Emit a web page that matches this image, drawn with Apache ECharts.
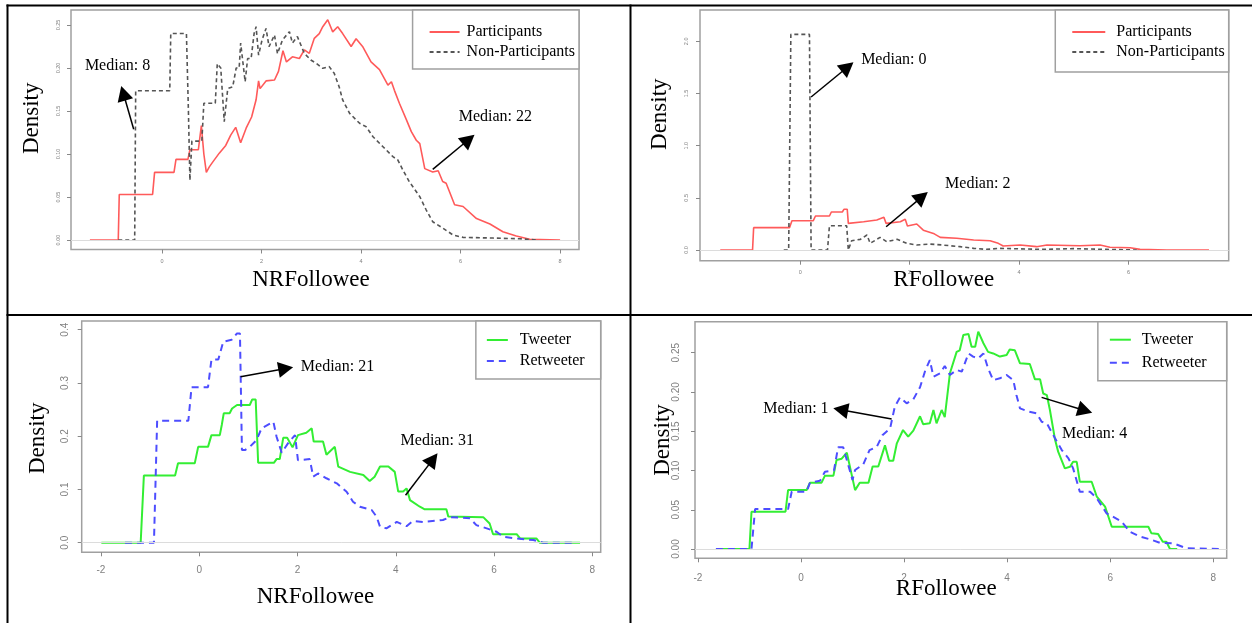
<!DOCTYPE html>
<html><head><meta charset="utf-8">
<script src="https://cdn.jsdelivr.net/npm/echarts@6/dist/echarts.min.js"></script>
<style>html,body{margin:0;padding:0;background:#fff}#c{width:1252px;height:623px}</style>
</head><body><div id="c"></div>
<script>
// ---------------- DATA ----------------
// Panel 1: NRFollowee, Participants vs Non-Participants
const p1Participants = [[-1.45,0],[-0.88,0],[-0.86,0.053],[-0.19,0.053],[-0.15,0.0787],[0.24,0.0787],[0.28,0.0938],[0.52,0.0938],[0.56,0.105],[0.73,0.105],[0.79,0.133],[0.84,0.10],[0.89,0.0787],[0.95,0.085],[1.01,0.090],[1.15,0.101],[1.28,0.110],[1.38,0.122],[1.48,0.131],[1.58,0.113],[1.69,0.130],[1.80,0.143],[1.89,0.163],[1.94,0.185],[1.97,0.176],[2.09,0.185],[2.26,0.186],[2.34,0.196],[2.43,0.220],[2.50,0.207],[2.62,0.213],[2.76,0.211],[2.86,0.221],[2.96,0.217],[3.06,0.2345],[3.16,0.240],[3.23,0.248],[3.33,0.256],[3.43,0.242],[3.53,0.248],[3.63,0.240],[3.80,0.225],[3.90,0.234],[4.03,0.225],[4.20,0.207],[4.37,0.198],[4.54,0.180],[4.61,0.184],[4.67,0.174],[4.77,0.159],[4.91,0.140],[5.01,0.126],[5.11,0.116],[5.18,0.112],[5.28,0.083],[5.44,0.079],[5.55,0.0806],[5.64,0.068],[5.71,0.066],[5.88,0.041],[6.05,0.039],[6.32,0.025],[6.59,0.0186],[6.85,0.0097],[7.12,0.0047],[7.39,0.0008],[8.0,0]];
const p1NonParticipants = [[-0.88,0],[-0.55,0],[-0.53,0.1736],[0.155,0.1736],[0.175,0.240],[0.49,0.240],[0.53,0.15],[0.56,0.0694],[0.60,0.115],[0.80,0.115],[0.84,0.159],[1.07,0.159],[1.11,0.205],[1.18,0.2],[1.25,0.1376],[1.32,0.176],[1.42,0.178],[1.49,0.2],[1.55,0.2],[1.58,0.229],[1.67,0.184],[1.72,0.211],[1.79,0.211],[1.85,0.240],[1.89,0.248],[1.94,0.215],[2.01,0.2326],[2.09,0.246],[2.15,0.2248],[2.26,0.2384],[2.32,0.2166],[2.42,0.2326],[2.56,0.2422],[2.62,0.229],[2.72,0.2365],[2.79,0.2267],[2.86,0.217],[2.99,0.2093],[3.10,0.2054],[3.23,0.1996],[3.36,0.2016],[3.46,0.1938],[3.56,0.178],[3.63,0.1628],[3.77,0.1473],[3.97,0.1357],[4.10,0.1318],[4.24,0.120],[4.44,0.1085],[4.64,0.0969],[4.74,0.093],[4.84,0.0814],[4.97,0.0678],[5.18,0.0504],[5.31,0.0349],[5.44,0.0213],[5.65,0.0136],[5.85,0.0058],[6.05,0.0031],[6.65,0.0023],[7.19,0.0015],[7.53,0]];
// Panel 2: RFollowee, Participants vs Non-Participants
const p2Participants = [[-1.46,0],[-0.87,0],[-0.85,0.214],[-0.195,0.214],[-0.15,0.281],[0.24,0.281],[0.28,0.326],[0.535,0.326],[0.57,0.364],[0.77,0.364],[0.80,0.39],[0.86,0.39],[0.88,0.255],[1.16,0.271],[1.40,0.287],[1.53,0.313],[1.57,0.255],[1.83,0.271],[1.92,0.294],[1.96,0.23],[2.13,0.249],[2.25,0.19],[2.45,0.155],[2.56,0.121],[2.86,0.112],[3.17,0.096],[3.47,0.089],[3.62,0.064],[3.71,0.038],[4.02,0.048],[4.32,0.032],[4.51,0.048],[5.11,0.041],[5.48,0.048],[5.66,0.026],[6.03,0.022],[6.21,0.006],[6.70,0],[7.47,0]];
const p2NonParticipants = [[-0.30,0],[-0.21,0],[-0.17,2.066],[0.17,2.066],[0.20,0],[0.50,0],[0.535,0.233],[0.85,0.233],[0.88,0],[0.94,0.089],[1.10,0.102],[1.22,0.144],[1.28,0.064],[1.46,0.121],[1.58,0.080],[1.77,0.102],[1.95,0.064],[2.13,0.048],[2.37,0.057],[2.60,0.048],[2.92,0.032],[3.17,0.016],[3.41,0.006],[3.65,0.016],[4.38,0.006],[4.99,0.013],[5.60,0.006],[6.15,0]];
// Panel 3: NRFollowee, Tweeter vs Retweeter
const p3Tweeter = [[-1.99,0],[-1.19,0],[-1.125,0.126],[-0.49,0.126],[-0.43,0.149],[-0.09,0.149],[-0.02,0.180],[0.18,0.180],[0.25,0.202],[0.42,0.202],[0.46,0.221],[0.50,0.243],[0.62,0.243],[0.67,0.252],[0.77,0.2586],[1.03,0.2586],[1.08,0.269],[1.15,0.269],[1.20,0.150],[1.52,0.150],[1.575,0.157],[1.64,0.157],[1.71,0.197],[1.79,0.197],[1.90,0.179],[2.01,0.202],[2.18,0.2066],[2.29,0.2148],[2.33,0.190],[2.52,0.190],[2.59,0.165],[2.69,0.174],[2.76,0.180],[2.83,0.143],[3.07,0.133],[3.34,0.127],[3.47,0.116],[3.57,0.124],[3.68,0.143],[3.85,0.143],[3.98,0.133],[4.05,0.096],[4.15,0.096],[4.22,0.102],[4.29,0.080],[4.49,0.0676],[4.59,0.0627],[5.03,0.0627],[5.07,0.049],[5.78,0.048],[5.91,0.036],[5.98,0.016],[6.46,0.016],[6.53,0.008],[6.86,0.008],[6.93,0],[7.75,0]];
const p3Retweeter = [[-1.51,0],[-0.92,0],[-0.855,0.229],[-0.22,0.229],[-0.155,0.292],[0.18,0.292],[0.25,0.344],[0.39,0.344],[0.49,0.3775],[0.66,0.381],[0.77,0.393],[0.83,0.393],[0.87,0.174],[0.93,0.174],[1.03,0.180],[1.17,0.193],[1.27,0.215],[1.51,0.227],[1.575,0.199],[1.68,0.169],[1.81,0.187],[1.95,0.202],[2.01,0.155],[2.25,0.157],[2.32,0.124],[2.42,0.130],[2.46,0.133],[2.59,0.121],[2.80,0.1115],[3.00,0.0958],[3.13,0.077],[3.27,0.0676],[3.51,0.0614],[3.61,0.0488],[3.68,0.030],[3.81,0.027],[4.02,0.039],[4.22,0.031],[4.35,0.041],[4.56,0.039],[4.96,0.0426],[5.10,0.048],[5.51,0.046],[5.64,0.033],[5.85,0.027],[6.05,0.0207],[6.19,0.011],[6.46,0.008],[6.80,0.005],[7.0,0],[7.61,0]];
// Panel 4: RFollowee, Tweeter vs Retweeter
const p4Tweeter = [[-1.65,0],[-1.0,0],[-0.96,0.0475],[-0.30,0.0475],[-0.25,0.0751],[0.11,0.0751],[0.175,0.0845],[0.40,0.0845],[0.465,0.0934],[0.63,0.0934],[0.69,0.1133],[0.79,0.115],[0.89,0.1226],[1.05,0.075],[1.14,0.0845],[1.31,0.0845],[1.39,0.105],[1.50,0.105],[1.63,0.132],[1.71,0.1124],[1.79,0.1124],[1.86,0.1346],[1.98,0.1515],[2.08,0.143],[2.18,0.1507],[2.31,0.169],[2.37,0.159],[2.50,0.160],[2.57,0.177],[2.63,0.160],[2.73,0.177],[2.79,0.168],[2.89,0.2237],[3.02,0.251],[3.08,0.253],[3.15,0.2725],[3.25,0.2737],[3.31,0.2576],[3.38,0.2576],[3.44,0.2767],[3.54,0.262],[3.63,0.251],[3.73,0.249],[3.86,0.245],[3.99,0.247],[4.05,0.254],[4.15,0.253],[4.25,0.2364],[4.44,0.2355],[4.54,0.216],[4.64,0.216],[4.70,0.198],[4.77,0.196],[4.83,0.177],[4.93,0.139],[4.99,0.124],[5.12,0.1027],[5.22,0.1048],[5.28,0.111],[5.35,0.111],[5.41,0.0857],[5.64,0.0857],[5.74,0.0666],[5.90,0.0539],[6.03,0.0284],[6.74,0.0284],[6.80,0.020],[6.93,0.019],[7.02,0.0093],[7.09,0.0093],[7.16,0],[7.3,0]];
const p4Retweeter = [[-1.65,0],[-0.96,0],[-0.89,0.0509],[-0.25,0.0509],[-0.18,0.073],[0.11,0.073],[0.175,0.0845],[0.37,0.087],[0.465,0.0985],[0.64,0.1],[0.72,0.1295],[0.82,0.1295],[1.0,0.0878],[1.05,0.1006],[1.21,0.108],[1.33,0.126],[1.47,0.130],[1.58,0.145],[1.73,0.1537],[1.82,0.181],[1.92,0.193],[2.05,0.1855],[2.18,0.1906],[2.31,0.206],[2.41,0.227],[2.50,0.2406],[2.57,0.2194],[2.70,0.2237],[2.79,0.233],[2.89,0.2216],[3.02,0.228],[3.12,0.2258],[3.25,0.249],[3.34,0.245],[3.44,0.2428],[3.54,0.249],[3.63,0.230],[3.73,0.215],[3.86,0.2173],[3.99,0.2216],[4.12,0.215],[4.18,0.196],[4.25,0.179],[4.41,0.175],[4.57,0.1728],[4.67,0.162],[4.77,0.160],[4.93,0.141],[5.06,0.126],[5.19,0.1155],[5.28,0.1027],[5.41,0.073],[5.61,0.073],[5.74,0.0645],[5.93,0.0454],[6.06,0.041],[6.22,0.035],[6.38,0.022],[6.58,0.0157],[6.77,0.0124],[6.96,0.008],[7.22,0.0073],[7.48,0.001],[8.13,0]];

// tick values
const xTicksP1 = [0,2,4,6,8];
const xTicksP2 = [0,2,4,6];
const xTicksP3 = [-2,0,2,4,6,8];
const xTicksP4 = [-2,0,2,4,6,8];
const yTicksP1 = [0,0.05,0.10,0.15,0.20,0.25];
const yTicksP2 = [0,0.5,1.0,1.5,2.0];
const yTicksP3 = [0,0.1,0.2,0.3,0.4];
const yTicksP4 = [0,0.05,0.10,0.15,0.20,0.25];

// labels
const legendTop = ['Participants','Non-Participants'];
const legendBottom = ['Tweeter','Retweeter'];
const xTitles = ['NRFollowee','RFollowee','NRFollowee','RFollowee'];
const yTitle = 'Density';
// annotations (data coordinates): label anchor (left, middle), arrow start, arrow tip
const annotations = [
  {grid:0, text:'Median: 8',  at:[-1.551,0.2023], from:[-0.57,0.1287], to:[-0.82,0.179]},
  {grid:0, text:'Median: 22', at:[5.962,0.1434],  from:[5.44,0.0822],  to:[6.28,0.1224]},
  {grid:1, text:'Median: 0',  at:[1.114,1.827],   from:[0.20,1.466],   to:[0.974,1.799]},
  {grid:1, text:'Median: 2',  at:[2.648,0.635],   from:[1.571,0.223],  to:[2.332,0.556]},
  {grid:2, text:'Median: 21', at:[2.069,0.3305],  from:[0.842,0.3117], to:[1.912,0.3294]},
  {grid:2, text:'Median: 31', at:[4.098,0.1915],  from:[4.199,0.089],  to:[4.850,0.1679]},
  {grid:3, text:'Median: 1',  at:[-0.731,0.1791], from:[1.759,0.1655], to:[0.627,0.1791]},
  {grid:3, text:'Median: 4',  at:[5.063,0.1473],  from:[4.669,0.1931], to:[5.651,0.1735]}
];

// ---------------- LAYOUT / STYLE ----------------
const SERIF = '"Liberation Serif","Times New Roman",serif';
const SANS = '"Liberation Sans",Arial,sans-serif';
const panels = [
  {grid:{left:71, top:10, width:508, height:239.5}, x:[-1.83,8.38], y:[-0.011,0.2674], xt:xTicksP1, yt:yTicksP1, dec:2, fs:5.5, xm:9, ym:10,
   title:[311,279.5], ytitle:[31.5,118.3]},
  {grid:{left:700, top:10, width:528.7, height:250.7}, x:[-1.83,7.83], y:[-0.1025,2.30], xt:xTicksP2, yt:yTicksP2, dec:1, fs:5.5, xm:9, ym:11,
   title:[943.8,279.5], ytitle:[660,114.2]},
  {grid:{left:81.7, top:321, width:519, height:231.3}, x:[-2.39,8.17], y:[-0.018,0.4163], xt:xTicksP3, yt:yTicksP3, dec:1, fs:10, xm:13, ym:11,
   title:[315.5,596.7], ytitle:[37.7,438.3]},
  {grid:{left:695, top:321.7, width:531.7, height:236.6}, x:[-2.056,8.26], y:[-0.0118,0.2894], xt:xTicksP4, yt:yTicksP4, dec:2, fs:10, xm:15, ym:14,
   title:[946.3,588.7], ytitle:[663.3,440]}
];

const grids = panels.map(p => Object.assign({show:true, borderColor:'#a0a0a0', borderWidth:1.5, backgroundColor:'transparent', containLabel:false, outerBoundsMode:'none'}, p.grid));
const xAxes = panels.map((p,i) => ({
  type:'value', gridIndex:i, min:p.x[0], max:p.x[1], position:'bottom',
  splitLine:{show:false}, axisLine:{show:false, onZero:false},
  axisTick:{show:true, length:4, customValues:p.xt, lineStyle:{color:'#888', width:1}},
  axisLabel:{customValues:p.xt, fontSize:p.fs, color:'#808080', fontFamily:SANS, margin:p.xm, formatter:v=>String(Math.round(v))}
}));
const yAxes = panels.map((p,i) => ({
  type:'value', gridIndex:i, min:p.y[0], max:p.y[1], position:'left',
  splitLine:{show:false}, axisLine:{show:false, onZero:false},
  axisTick:{show:true, length:4, customValues:p.yt, lineStyle:{color:'#888', width:1}},
  axisLabel:{customValues:p.yt, rotate:90, fontSize:p.fs, color:'#808080', fontFamily:SANS, margin:p.ym, formatter:v=>v.toFixed(p.dec)}
}));

const RED = '#ff5a5a', GREY = '#555555', GREEN = '#33ee33', BLUE = '#4d4dff';
const baseLine = {silent:true, symbol:'none', label:{show:false}, lineStyle:{color:'#dcdcdc', type:'solid', width:1}, data:[{yAxis:0}]};
function line(name, idx, data, color, width, type, withBase) {
  const s = {name, type:'line', xAxisIndex:idx, yAxisIndex:idx, data, symbol:'none', showSymbol:false,
    lineStyle:{color, width, type}, itemStyle:{color}, animation:false};
  if (withBase) s.markLine = baseLine;
  return s;
}
const series = [
  line(legendTop[0], 0, p1Participants, RED, 1.6, 'solid', true),
  line(legendTop[1], 0, p1NonParticipants, GREY, 1.6, [4,3], false),
  line(legendTop[0], 1, p2Participants, RED, 1.6, 'solid', true),
  line(legendTop[1], 1, p2NonParticipants, GREY, 1.6, [4,3], false),
  line(legendBottom[0], 2, p3Tweeter, GREEN, 2, 'solid', true),
  line(legendBottom[1], 2, p3Retweeter, BLUE, 2, [7,5], false),
  line(legendBottom[0], 3, p4Tweeter, GREEN, 2, 'solid', true),
  line(legendBottom[1], 3, p4Retweeter, BLUE, 2, [7,5], false)
];

function legend(data, right, top, padding, itemWidth, itemGap, textPad) {
  return {data, orient:'vertical', right, top, padding, itemWidth, itemHeight:16, itemGap,
    borderColor:'#a0a0a0', borderWidth:1.5, selectedMode:false, backgroundColor:'#fff',
    itemStyle:{opacity:0}, lineStyle:{opacity:1},
    textStyle:{fontFamily:SERIF, fontSize:16, color:'#000', padding:[0,0,0,textPad]}};
}
const legends = [
  legend(legendTop, 673, 10, [14,4,9,16], 30, 4, 2),
  legend(legendTop, 23.3, 10, [14,4,12,16], 33, 4, 6),
  legend(legendBottom, 651.3, 321, [11,16,10,10], 21, 5, 7),
  legend(legendBottom, 25.3, 321.7, [10,20,10,11], 21, 7, 6)
];

const chart = echarts.init(document.getElementById('c'), null, {renderer:'canvas'});
chart.setOption({animation:false, backgroundColor:'#fff', grid:grids, xAxis:xAxes, yAxis:yAxes, legend:legends, series});

// graphic: table borders, axis titles, median annotations
const g = [];
const B = {stroke:'#000', lineWidth:2};
g.push({type:'line', shape:{x1:6.5, y1:5.5, x2:1252, y2:5.5}, style:B, z:100});
g.push({type:'line', shape:{x1:7.5, y1:4.5, x2:7.5, y2:623}, style:B, z:100});
g.push({type:'line', shape:{x1:630.5, y1:4.5, x2:630.5, y2:623}, style:B, z:100});
g.push({type:'line', shape:{x1:6.5, y1:315, x2:1252, y2:315}, style:B, z:100});
panels.forEach((p,i) => {
  g.push({type:'text', x:p.title[0], y:p.title[1], style:{text:xTitles[i], font:'23px '+SERIF, fill:'#000', textAlign:'center', textVerticalAlign:'middle'}, z:100});
  g.push({type:'text', x:p.ytitle[0], y:p.ytitle[1], rotation:Math.PI/2, style:{text:yTitle, font:'23px '+SERIF, fill:'#000', textAlign:'center', textVerticalAlign:'middle'}, z:100});
});
annotations.forEach(a => {
  const f = chart.convertToPixel({gridIndex:a.grid}, a.from);
  const t = chart.convertToPixel({gridIndex:a.grid}, a.to);
  const l = chart.convertToPixel({gridIndex:a.grid}, a.at);
  const dx = t[0]-f[0], dy = t[1]-f[1], len = Math.hypot(dx,dy);
  const ux = dx/len, uy = dy/len, L = 15, W = 8;
  const bx = t[0]-ux*L, by = t[1]-uy*L;
  g.push({type:'line', shape:{x1:f[0], y1:f[1], x2:bx+ux*2, y2:by+uy*2}, style:{stroke:'#000', lineWidth:1.5}, z:100});
  g.push({type:'polygon', shape:{points:[[t[0],t[1]],[bx-uy*W, by+ux*W],[bx+uy*W, by-ux*W]]}, style:{fill:'#000'}, z:100});
  g.push({type:'text', x:l[0], y:l[1], style:{text:a.text, font:'16px '+SERIF, fill:'#000', textAlign:'left', textVerticalAlign:'middle'}, z:100});
});
chart.setOption({graphic:{elements:g}});
</script></body></html>
